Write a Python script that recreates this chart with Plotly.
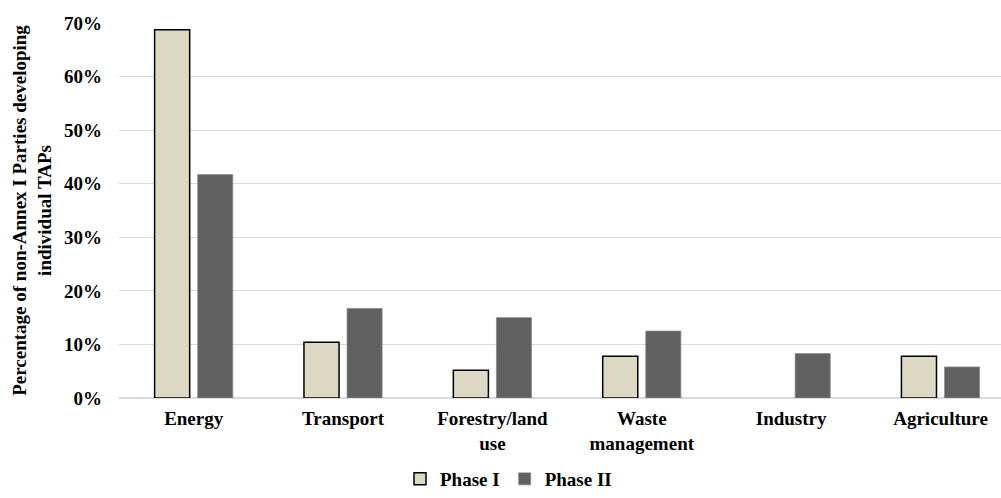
import plotly.graph_objects as go

# Sectors covered by technology action plans (TAPs)
categories = ["Energy", "Transport", "Forestry/land<br>use", "Waste<br>management", "Industry", "Agriculture"]
phase_1 = [0.6875, 0.104, 0.052, 0.078, None, 0.078]
phase_2 = [0.417, 0.167, 0.150, 0.125, 0.083, 0.058]
y_ticks = [0, 0.1, 0.2, 0.3, 0.4, 0.5, 0.6, 0.7]

FONT = "Liberation Serif"
SIZE = 19

fig = go.Figure()
fig.add_trace(go.Bar(
    name="Phase I", x=categories, y=phase_1,
    marker=dict(color="#DDD8C3", line=dict(color="#000000", width=1.5)),
))
fig.add_trace(go.Bar(
    name="Phase II", x=categories, y=phase_2,
    marker=dict(color="#606060", line=dict(color="#8a8a8a", width=0.75)),
))

bold = dict(family=FONT, size=SIZE, color="#000000", weight="bold")

fig.update_layout(
    width=1001, height=498,
    margin=dict(l=119, r=0, t=23, b=99.5),
    paper_bgcolor="white", plot_bgcolor="white",
    font=dict(family=FONT, size=SIZE, color="#000000"),
    barmode="group", bargap=0.423, bargroupgap=0.186,
    showlegend=True,
    legend=dict(
        orientation="h", xref="container", yref="container",
        x=0.508, xanchor="center", y=-0.01, yanchor="bottom",
        font=bold, itemwidth=30, traceorder="normal",
    ),
    xaxis=dict(
        type="category", range=[-0.5, 5.405],
        showgrid=False, showline=False, ticks="",
        tickfont=bold, ticklabelstandoff=7,
    ),
    yaxis=dict(
        range=[0, 0.7], tickvals=y_ticks, tickformat=".0%",
        showgrid=True, gridcolor="#D9D9D9", gridwidth=1.3,
        zeroline=True, zerolinecolor="#D9D9D9", zerolinewidth=1.5,
        showline=False, ticks="",
        tickfont=bold, ticklabelstandoff=16,
        title=dict(
            text="Percentage of non-Annex I Parties developing<br>individual TAPs",
            font=bold, standoff=7,
        ),
    ),
)

fig.write_html("out.html")
